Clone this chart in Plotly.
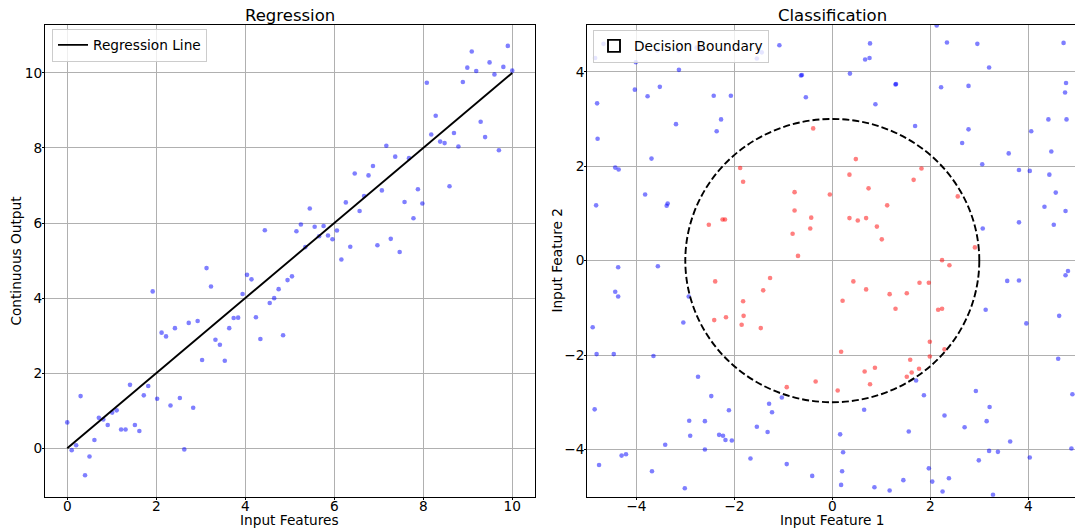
import plotly.graph_objects as go

# ---------------- Regression data ----------------
reg_x = [0.00, 0.10, 0.20, 0.30, 0.40, 0.50, 0.61, 0.71, 0.81, 0.91,
         1.01, 1.11, 1.21, 1.31, 1.41, 1.52, 1.62, 1.72, 1.82, 1.92,
         2.02, 2.12, 2.22, 2.32, 2.42, 2.53, 2.63, 2.73, 2.83, 2.93,
         3.03, 3.13, 3.23, 3.33, 3.43, 3.54, 3.64, 3.74, 3.84, 3.94,
         4.04, 4.14, 4.24, 4.34, 4.44, 4.55, 4.65, 4.75, 4.85, 4.95,
         5.05, 5.15, 5.25, 5.35, 5.45, 5.56, 5.66, 5.76, 5.86, 5.96,
         6.06, 6.16, 6.26, 6.36, 6.46, 6.57, 6.67, 6.77, 6.87, 6.97,
         7.07, 7.17, 7.27, 7.37, 7.47, 7.58, 7.68, 7.78, 7.88, 7.98,
         8.08, 8.18, 8.28, 8.38, 8.48, 8.59, 8.69, 8.79, 8.89, 8.99,
         9.09, 9.19, 9.29, 9.39, 9.49, 9.60, 9.70, 9.80, 9.90, 10.00]
reg_y = [0.69, -0.05, 0.08, 1.39, -0.72, -0.22, 0.22, 0.81, 0.77, 0.62,
         0.95, 1.01, 0.50, 0.50, 1.69, 0.62, 0.46, 1.41, 1.66, 4.18,
         1.32, 3.08, 2.98, 1.14, 3.20, 1.34, -0.03, 3.34, 1.08, 3.39,
         2.35, 4.80, 4.31, 2.89, 2.76, 2.33, 3.20, 3.47, 3.48, 4.11,
         4.62, 4.50, 3.49, 2.91, 5.81, 3.87, 4.00, 4.24, 3.01, 4.48,
         4.58, 5.78, 5.96, 5.36, 6.39, 5.90, 5.65, 5.92, 5.67, 5.57,
         5.80, 5.03, 6.55, 5.37, 7.32, 6.32, 6.72, 7.27, 7.52, 5.41,
         6.87, 8.06, 5.58, 7.77, 5.23, 6.56, 7.73, 6.13, 6.90, 6.52,
         9.74, 8.36, 8.86, 8.17, 8.13, 6.98, 8.40, 8.04, 9.76, 10.14,
         10.57, 10.05, 8.70, 8.29, 10.28, 9.96, 7.94, 10.16, 10.72, 10.06]
line_x = [0, 10]
line_y = [0, 10]

# ---------------- Classification data ----------------
blue_pts = [
    (-4.84, 4.29), (-4.67, 4.59), (-4.01, 4.20), (-3.57, 4.45), (-3.14, 4.45),
    (-2.77, 4.51), (-2.69, 4.48), (-3.13, 4.04), (-1.54, 4.28), (-1.44, 4.41),
    (-1.08, 4.56), (-0.64, 3.92), (-0.62, 3.93), (-0.54, 3.46), (-4.80, 3.33),
    (-4.03, 3.62), (-3.77, 3.48), (-3.52, 3.68), (-2.42, 3.49), (-2.07, 3.49),
    (-2.27, 2.99), (-2.36, 2.74), (-3.19, 2.89), (-4.79, 2.58), (-3.69, 2.16),
    (-4.43, 1.97), (-4.36, 1.93), (-3.82, 1.40), (-3.36, 1.21), (-3.38, 1.16),
    (-4.82, 1.17),
    (0.77, 4.60), (0.67, 4.26), (0.76, 4.29), (0.36, 3.96), (1.29, 3.73),
    (1.30, 3.74), (0.88, 3.31), (1.69, 2.85), (2.13, 4.98), (2.34, 4.62),
    (2.96, 4.59), (3.20, 4.09), (2.22, 3.67), (2.78, 3.70), (2.78, 2.78),
    (2.65, 2.49), (3.60, 2.27), (3.06, 2.04), (3.81, 1.92), (4.03, 1.90),
    (4.72, 4.61), (4.77, 3.76), (4.75, 3.56), (4.41, 2.99), (4.78, 2.99),
    (4.06, 2.74), (4.47, 2.31), (4.43, 1.82), (4.56, 1.44), (4.33, 1.14),
    (4.76, 1.05), (4.52, 0.76), (3.81, 0.81), (3.07, 0.68),
    (-4.37, -0.14), (-3.56, -0.12), (-4.43, -0.66), (-4.37, -0.76), (-4.89, -1.41),
    (-2.93, -0.76), (-3.04, -1.31), (-4.81, -1.98), (-4.46, -1.98), (-3.65, -2.02),
    (-2.74, -2.46), (-2.47, -2.87), (-2.11, -3.17), (-2.92, -3.39), (-2.60, -3.40),
    (-2.90, -3.71), (-2.31, -3.69), (-2.23, -3.71), (-2.18, -3.80), (-2.05, -3.81),
    (-2.60, -4.00), (-3.41, -3.90), (-4.85, -3.15), (-4.21, -4.10), (-4.30, -4.13),
    (-4.76, -4.33), (-3.68, -4.46), (-3.01, -4.82), (-1.67, -4.19), (-0.93, -4.31),
    (-0.41, -4.56), (-1.54, -3.52), (-1.32, -3.63), (-1.29, -3.03), (-1.23, -3.21),
    (-1.03, -2.90),
    (1.71, -2.54), (1.87, -2.85), (0.65, -3.16), (0.16, -3.68), (1.56, -3.62),
    (2.29, -3.28), (2.93, -2.76), (3.21, -3.10), (3.15, -3.40), (2.70, -3.53),
    (3.63, -3.83), (3.20, -4.03), (3.38, -4.05), (2.99, -4.23), (4.03, -4.17),
    (4.88, -3.98), (4.90, -2.83), (4.61, -2.08), (3.13, -1.04), (3.96, -1.33),
    (4.63, -1.17), (3.57, -0.43), (3.81, -0.42), (4.76, -0.31), (4.81, -0.22),
    (0.22, -4.06), (0.20, -4.46), (0.18, -4.75), (0.86, -4.80), (1.17, -4.87),
    (1.45, -4.65), (1.97, -4.40), (2.04, -4.68), (2.38, -4.61), (2.25, -4.89),
    (3.28, -4.96),
]
red_pts = [
    (-0.39, 2.80), (-1.88, 1.96), (-1.82, 1.67), (-0.77, 1.45), (-0.05, 1.40),
    (-0.77, 1.06), (-0.43, 0.91), (-0.45, 0.68), (-0.81, 0.57), (-0.70, 0.10),
    (-2.52, 0.76), (-2.24, 0.87), (-2.19, 0.87),
    (0.48, 2.15), (0.35, 1.82), (0.74, 1.53), (1.12, 1.17), (0.35, 0.90),
    (0.52, 0.85), (0.69, 0.90), (0.91, 0.72), (1.01, 0.45), (1.66, 1.71),
    (1.82, 1.95), (2.56, 1.36), (2.91, 0.28),
    (-2.39, -0.44), (-1.27, -0.37), (-1.41, -0.63), (-1.82, -0.86), (-1.81, -1.17),
    (-2.17, -1.20), (-2.41, -1.26), (-1.85, -1.36), (-1.46, -1.43), (-0.93, -2.68),
    (-0.34, -2.56),
    (2.24, 0.01), (2.39, -0.10), (0.43, -0.44), (0.69, -0.61), (0.21, -0.85),
    (1.17, -0.71), (1.52, -0.69), (1.78, -0.47), (1.97, -0.47), (1.29, -1.02),
    (2.16, -1.04), (2.24, -1.02), (1.99, -1.72), (1.99, -2.03), (2.29, -1.88),
    (0.18, -1.93), (1.59, -2.10), (1.77, -2.29), (1.62, -2.37), (1.52, -2.46),
    (0.87, -2.27), (0.66, -2.35), (0.77, -2.62), (0.11, -2.75),
]
blue_x = [p[0] for p in blue_pts]
blue_y = [p[1] for p in blue_pts]
red_x = [p[0] for p in red_pts]
red_y = [p[1] for p in red_pts]
boundary_radius = 3.0

left_ticks = [0, 2, 4, 6, 8, 10]
right_ticks = [-4, -2, 0, 2, 4]

FONT = "DejaVu Sans"
W, H = 1075, 528
TICK_FS = 13.7
TITLE_FS = 16.5

fig = go.Figure()

fig.add_trace(go.Scatter(
    x=reg_x, y=reg_y, mode="markers",
    marker=dict(color="rgba(0,0,255,0.5)", size=4.6, line=dict(width=0)),
    showlegend=False, xaxis="x", yaxis="y"))
fig.add_trace(go.Scatter(
    x=line_x, y=line_y, mode="lines", name="Regression Line",
    line=dict(color="black", width=1.9), legend="legend", xaxis="x", yaxis="y"))

fig.add_trace(go.Scatter(
    x=blue_x, y=blue_y, mode="markers",
    marker=dict(color="rgba(0,0,255,0.5)", size=4.6, line=dict(width=0)),
    showlegend=False, xaxis="x2", yaxis="y2"))
fig.add_trace(go.Scatter(
    x=red_x, y=red_y, mode="markers",
    marker=dict(color="rgba(255,0,0,0.5)", size=4.6, line=dict(width=0)),
    showlegend=False, xaxis="x2", yaxis="y2"))

boundary_line = dict(color="black", width=1.9, dash="7px,3px")
# the decision boundary circle drawn on the axes
fig.add_shape(type="circle", xref="x2", yref="y2",
              x0=-boundary_radius, x1=boundary_radius,
              y0=-boundary_radius, y1=boundary_radius,
              line=boundary_line, fillcolor="rgba(0,0,0,0)", layer="above",
              showlegend=False)
# legend proxy (rectangle patch icon, like matplotlib's legend for a patch);
# placed outside the axis range so only its legend icon is visible
fig.add_shape(type="rect", xref="x2", yref="y2",
              x0=20, x1=21, y0=20, y1=21,
              line=dict(color="black", width=1.9, dash="4px,2px"),
              fillcolor="rgba(0,0,0,0)",
              showlegend=True, name="Decision Boundary", legend="legend2")

yd = [(H - 496.7) / H, (H - 24.5) / H]
axis_common = dict(showline=True, linecolor="black", linewidth=1, mirror=True,
                   ticks="outside", ticklen=2, tickwidth=1, tickcolor="black",
                   showgrid=True, gridcolor="#b0b0b0", gridwidth=1,
                   zeroline=False, tickfont=dict(family=FONT, size=TICK_FS, color="black"))

fig.update_layout(
    width=W, height=H,
    margin=dict(l=0, r=0, t=0, b=0),
    plot_bgcolor="white", paper_bgcolor="white",
    font=dict(family=FONT, size=TICK_FS, color="black"),
    xaxis=dict(domain=[45 / W, 534.5 / W], range=[-0.5, 10.5], tickvals=left_ticks,
               anchor="y", ticklabelstandoff=-5, **axis_common),
    yaxis=dict(domain=yd, range=[-1.29, 11.29], tickvals=left_ticks, anchor="x",
               ticklabelstandoff=-3, **axis_common),
    xaxis2=dict(domain=[587.3 / W, 1.0], range=[-5, 4.953], tickvals=right_ticks,
                anchor="y2", ticklabelstandoff=-5, **axis_common),
    yaxis2=dict(domain=yd, range=[-5, 5], tickvals=right_ticks, anchor="x2",
                ticklabelstandoff=-3, **axis_common),
    legend=dict(x=52 / W, y=(H - 28.5) / H, xanchor="left", yanchor="top",
                bgcolor="rgba(255,255,255,0.8)", bordercolor="#cccccc", borderwidth=1,
                font=dict(family=FONT, size=TICK_FS, color="black")),
    legend2=dict(x=593 / W, y=(H - 29.5) / H, xanchor="left", yanchor="top",
                 bgcolor="rgba(255,255,255,0.8)", bordercolor="#cccccc", borderwidth=1,
                 font=dict(family=FONT, size=TICK_FS, color="black")),
)

ann = [
    dict(text="Regression", x=(45 + 534.5) / 2 / W, y=(H - 16) / H, size=TITLE_FS, angle=0),
    dict(text="Classification", x=(587.3 + 1077.3) / 2 / W, y=(H - 16) / H, size=TITLE_FS, angle=0),
    dict(text="Input Features", x=(45 + 534.5) / 2 / W, y=(H - 520) / H, size=TICK_FS, angle=0),
    dict(text="Input Feature 1", x=(587.3 + 1077.3) / 2 / W, y=(H - 520) / H, size=TICK_FS, angle=0),
    dict(text="Continuous Output", x=16 / W, y=(H - 260.6) / H, size=TICK_FS, angle=-90),
    dict(text="Input Feature 2", x=557 / W, y=(H - 260.6) / H, size=TICK_FS, angle=-90),
]
for a in ann:
    fig.add_annotation(text=a["text"], x=a["x"], y=a["y"], xref="paper", yref="paper",
                       xanchor="center", yanchor="middle", showarrow=False,
                       textangle=a["angle"],
                       font=dict(family=FONT, size=a["size"], color="black"))

fig.write_html("out.html")
